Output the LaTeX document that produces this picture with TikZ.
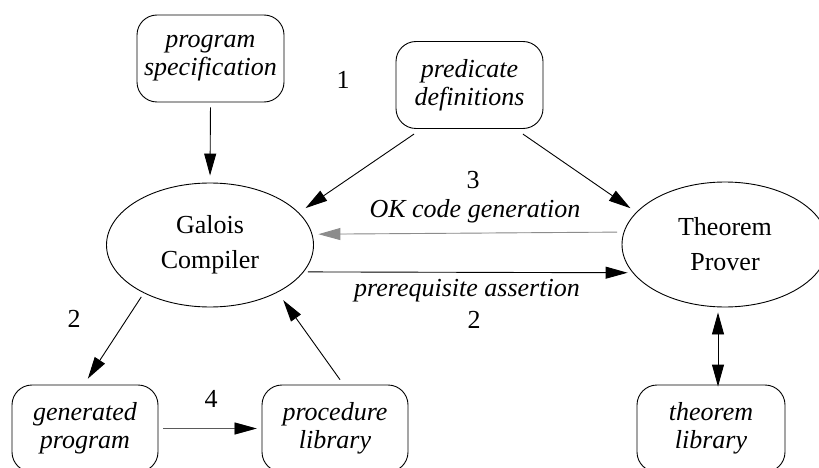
\documentclass[tikz,border=0pt]{standalone}
\usepackage{fontspec}
\setmainfont{Liberation Serif}
\usetikzlibrary{arrows.meta,shapes.geometric}
\definecolor{feedback}{RGB}{140,140,140}
\definecolor{linkgrey}{RGB}{90,90,90}
\begin{document}
\begin{tikzpicture}[x=1pt,y=-1pt,
  every node/.style={font=\fontsize{26}{28}\selectfont},
  store/.style={draw,rounded corners=20pt,minimum width=147pt,minimum height=87pt,
    inner sep=0pt,align=center,font=\fontsize{26}{28}\selectfont\itshape,line width=0.9pt},
  agent/.style={draw,ellipse,minimum width=207pt,minimum height=124pt,inner sep=0pt,
    align=center,font=\fontsize{26}{35}\selectfont,line width=0.9pt},
  flow/.style={line width=0.9pt,-{Triangle[length=22pt,width=12pt]}},
  bothways/.style={line width=0.9pt,{Triangle[length=22pt,width=12pt]}-{Triangle[length=22pt,width=12pt]}},
  tag/.style={inner sep=0pt}]
\useasboundingbox (0,0) rectangle (819,468);

% nodes
\node[store] (spec) at (210.5,58.5) {program\\specification};
\node[store] (pred) at (469.5,85) {predicate\\definitions};
\node[agent] (gal) at (210,245) {Galois\\Compiler};
\node[agent,minimum width=206pt,minimum height=125pt] (thm) at (725,244.5) {Theorem\\Prover};
\node[store,minimum width=146pt] (gen) at (85,428.5) {generated\\program};
\node[store,minimum width=146pt] (proc) at (335,428.5) {procedure\\library};
\node[store,minimum width=148pt] (tlib) at (711,428.5) {theorem\\library};

% labels
\node[tag] (l1) at (343,80) {1};
\node[tag] (l3) at (473,180) {3};
\node[tag,anchor=base,font=\fontsize{26}{28}\selectfont\itshape] (ok) at (475,217) {OK code generation};
\node[tag,anchor=base,font=\fontsize{26}{28}\selectfont\itshape] (pa) at (467,296) {prerequisite assertion};
\node[tag] (l2a) at (474,320) {2};
\node[tag] (l2b) at (74,319) {2};
\node[tag] (l4) at (211,399) {4};

% connectors
\draw[flow,shorten <=5pt,shorten >=7pt] (spec.south) -- (gal.north);
\draw[flow,shorten <=9pt,shorten >=8pt] ([xshift=-48pt]pred.south) -- (gal.20);
\draw[flow,shorten <=9pt,shorten >=7pt] ([xshift=46pt]pred.south) -- (thm.160.6);
\draw[flow,draw=feedback,fill=feedback,shorten <=6.5pt,shorten >=6pt] (thm.173.5) -- (gal.6.7);
\draw[flow,shorten <=4pt,shorten >=5pt] (gal.-16.8) -- (thm.197.3);
\draw[flow,shorten <=4.5pt,shorten >=7pt] (gal.216.3) -- ([xshift=-1pt]gen.north);
\draw[flow,shorten <=6pt,shorten >=9.5pt] ([xshift=8.5pt]proc.north) -- (gal.-35);
\draw[flow,draw=linkgrey,shorten <=5pt,shorten >=5pt] (gen.east) -- (proc.west);
\fill (proc.west) ++(-5,0) -- ++(-22,-6) -- ++(0,12) -- cycle;
\draw[bothways,shorten <=5pt,shorten >=-2pt] ([xshift=-7pt]thm.south) -- ([xshift=7pt]tlib.north);
\end{tikzpicture}
\end{document}
